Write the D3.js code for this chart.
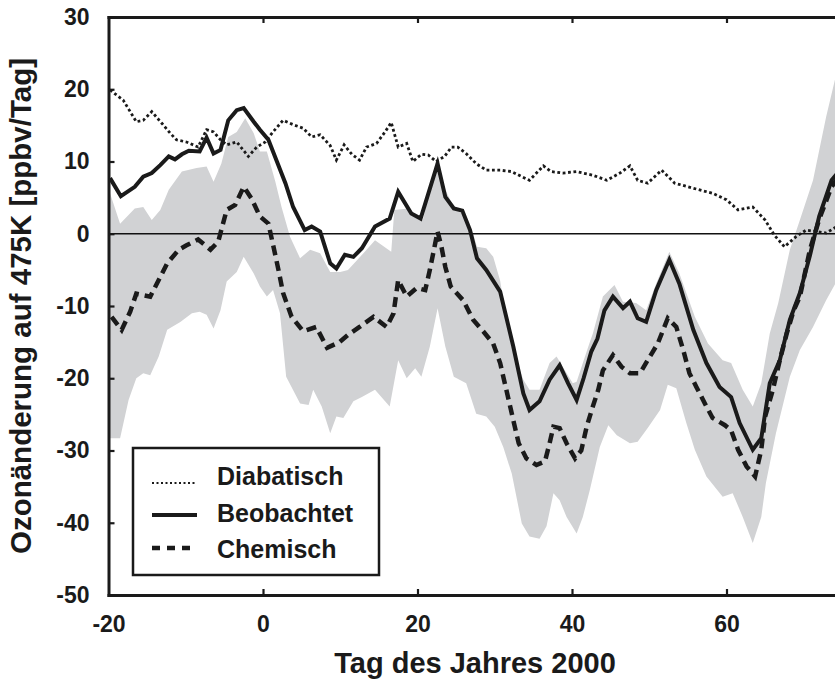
<!DOCTYPE html>
<html>
<head>
<meta charset="utf-8">
<script src="https://cdn.jsdelivr.net/npm/d3@7"></script>
<style>
  html, body { margin: 0; padding: 0; background: #fff; overflow: hidden; }
  svg { display: block; font-family: "Liberation Sans", Arial, Helvetica, sans-serif; font-weight: bold; }
</style>
</head>
<body>
<svg id="chart" width="835" height="680"></svg>
<script>
// Ozonänderung auf der 475K-Fläche, Tag des Jahres 2000: [Tag, ppbv/Tag]
const beobachtet = [
  [-19.8,7.7],[-18.4,5.2],[-16.6,6.5],[-15.5,7.9],[-14.4,8.4],[-13.3,9.5],[-12.2,10.7],[-11.4,10.3],
  [-10.5,11.0],[-9.6,11.5],[-8.2,11.4],[-7.3,13.3],[-6.4,11.1],[-5.5,11.6],[-4.5,15.7],[-3.4,17.1],
  [-2.5,17.4],[-1.2,15.5],[-0.4,14.4],[0.7,13.0],[1.8,10.0],[2.9,7.0],[3.9,3.7],[5.4,0.5],[6.3,1.0],
  [7.4,0.3],[8.7,-4.1],[9.5,-4.8],[10.6,-2.9],[11.7,-3.2],[12.8,-2.0],[14.5,1.0],[16.4,2.1],[17.5,5.8],
  [19.2,2.8],[20.4,2.1],[22.6,9.7],[23.6,5.1],[24.7,3.5],[25.8,3.2],[26.8,0.5],[27.7,-3.4],[28.9,-5.0],
  [30.7,-8.0],[32.4,-15.6],[33.7,-22.1],[34.5,-24.4],[35.8,-23.2],[37.1,-20.2],[38.4,-18.2],[39.5,-20.7],
  [40.6,-23.0],[41.5,-20.0],[42.5,-16.3],[43.3,-14.5],[44.2,-10.6],[45.3,-8.7],[46.6,-10.3],[47.5,-9.4],
  [48.5,-11.7],[49.6,-12.2],[50.9,-7.8],[52.6,-3.6],[53.9,-6.9],[55.7,-13.3],[57.4,-17.9],[59.1,-21.2],
  [60.6,-22.6],[61.7,-26.2],[63.4,-29.9],[64.5,-28.3],[65.6,-20.7],[66.9,-17.5],[68.2,-11.9],[69.5,-8.2],
  [70.8,-3.0],[72.0,2.4],[73.6,7.4],[74.3,8.3]
];

const chemisch = [
  [-19.6,-11.5],[-18.3,-13.3],[-17.2,-10.8],[-16.4,-8.3],[-14.6,-8.7],[-13.5,-6.4],[-12.4,-4.1],[-10.9,-2.2],
  [-9.9,-1.6],[-8.4,-0.8],[-6.8,-2.2],[-5.8,-1.1],[-4.7,3.3],[-3.6,4.0],[-2.5,6.5],[-1.5,4.9],[-0.4,2.4],
  [0.7,1.4],[1.4,-2.0],[2.0,-5.0],[2.6,-8.2],[3.7,-11.5],[5.2,-13.5],[6.9,-12.9],[8.3,-15.8],[9.9,-15.0],
  [11.0,-14.0],[12.5,-12.9],[14.3,-11.5],[16.0,-12.9],[16.9,-11.0],[17.5,-6.4],[18.6,-8.7],[19.9,-7.5],
  [21.0,-7.8],[21.6,-5.0],[22.6,0.3],[23.1,-1.8],[23.6,-4.6],[24.3,-7.3],[25.9,-9.2],[27.2,-11.9],
  [28.5,-13.5],[29.8,-15.2],[30.7,-17.9],[31.5,-21.6],[32.4,-25.8],[33.1,-29.0],[34.1,-31.1],[35.4,-32.0],
  [36.5,-31.5],[37.1,-29.0],[37.6,-26.7],[38.4,-26.9],[39.3,-29.0],[40.4,-31.1],[41.2,-30.0],[41.9,-26.7],
  [42.7,-23.9],[43.4,-21.6],[44.0,-18.9],[45.3,-16.8],[46.4,-18.4],[47.5,-19.3],[48.8,-19.3],[49.8,-17.5],
  [51.1,-15.2],[52.4,-11.7],[53.5,-12.9],[54.4,-16.1],[55.2,-19.3],[56.1,-21.2],[57.2,-23.5],[58.2,-25.5],
  [59.8,-26.5],[60.6,-27.2],[61.5,-29.9],[62.6,-32.2],[63.7,-33.6],[64.5,-29.9],[65.0,-25.3],[66.0,-21.6],
  [66.9,-17.5],[67.8,-13.8],[68.7,-10.6],[69.5,-8.7],[70.8,-2.2],[72.0,2.0],[73.6,6.5],[74.3,7.5]
];

const diabatisch = [
  [-19.8,19.9],[-18.1,18.5],[-16.4,15.5],[-15.5,15.7],[-14.4,16.9],[-13.1,15.3],[-12.0,13.9],[-11.2,13.0],
  [-9.9,12.7],[-8.4,12.0],[-7.3,14.4],[-6.4,14.1],[-5.5,13.0],[-4.7,12.3],[-3.4,12.7],[-1.9,10.7],
  [-0.8,12.0],[0.3,12.7],[1.3,14.1],[2.6,15.7],[3.9,15.1],[5.2,14.6],[6.3,13.4],[7.4,13.7],[8.7,12.2],
  [9.5,10.2],[10.5,12.3],[11.5,11.0],[12.5,10.2],[13.4,12.0],[14.7,12.5],[15.8,14.1],[16.6,15.4],
  [17.5,12.0],[18.6,12.5],[19.4,10.0],[20.5,11.0],[21.4,10.9],[22.4,10.0],[23.5,10.7],[24.4,12.0],
  [25.2,12.0],[26.3,11.1],[27.6,9.7],[28.9,8.8],[30.7,8.8],[32.2,8.6],[33.5,7.9],[34.5,7.4],[36.3,9.4],
  [37.3,8.6],[38.8,8.4],[40.6,8.6],[42.7,8.1],[44.5,7.4],[46.2,8.4],[47.5,9.4],[48.5,7.4],[49.8,7.0],
  [51.6,8.8],[53.3,7.0],[55.7,6.3],[58.2,5.6],[60.0,4.7],[61.5,3.3],[63.4,3.7],[65.0,1.9],[66.2,-0.2],
  [67.5,-1.8],[69.0,-0.4],[70.3,0.5],[71.6,0.3],[72.9,0.1],[74.3,1.0]
];

// Unsicherheitsbereich der chemischen Ozonänderung (obere / untere Grenze)
const bandOben = [
  [-19.8,5.6],[-18.5,1.4],[-16.6,3.5],[-15.5,3.7],[-14.4,1.9],[-13.3,3.3],[-12.2,6.1],[-10.5,8.6],
  [-8.6,9.1],[-7.3,9.3],[-6.4,7.2],[-5.4,9.7],[-4.5,13.4],[-3.4,14.1],[-2.3,16.0],[-1.2,13.9],[-0.4,11.4],
  [0.5,11.4],[1.6,7.2],[2.4,3.7],[3.5,-0.4],[4.8,-3.4],[6.1,-2.2],[7.4,-2.7],[8.7,-5.3],[10.0,-5.3],
  [11.0,-5.0],[13.0,-2.7],[14.5,-0.9],[16.6,-2.5],[17.0,3.3],[18.8,3.5],[19.9,2.4],[20.7,1.9],[22.4,10.2],
  [23.6,6.1],[24.7,3.7],[25.8,2.8],[27.2,0.0],[27.7,-1.8],[28.9,-2.0],[29.8,-3.2],[30.7,-6.5],[31.1,-9.2],
  [31.9,-14.2],[32.8,-17.5],[33.7,-20.2],[34.5,-21.6],[35.8,-21.6],[37.1,-17.9],[38.0,-17.0],[38.8,-18.4],
  [40.1,-20.7],[40.6,-20.5],[41.4,-17.9],[42.3,-15.0],[42.7,-13.8],[44.0,-8.7],[45.5,-7.1],[46.6,-9.4],
  [48.3,-9.6],[49.6,-10.6],[50.9,-6.9],[52.6,-2.5],[53.9,-5.5],[55.9,-11.5],[57.6,-15.2],[59.5,-17.5],
  [60.6,-17.9],[62.1,-21.6],[63.4,-23.9],[64.5,-20.7],[65.6,-13.8],[66.7,-9.6],[68.2,-2.2],[69.5,1.9],
  [71.2,7.4],[72.9,16.2],[74.3,22.5]
];

const bandUnten = [
  [-19.8,-28.3],[-18.5,-28.3],[-17.4,-23.0],[-16.4,-20.0],[-15.5,-19.3],[-14.6,-19.6],[-13.5,-17.0],
  [-12.4,-13.3],[-10.7,-12.2],[-9.2,-11.0],[-8.2,-10.8],[-7.3,-11.2],[-6.4,-13.1],[-5.5,-10.6],[-4.7,-6.6],
  [-3.4,-5.3],[-2.5,-3.2],[-1.2,-5.5],[-0.4,-7.3],[0.5,-8.7],[1.3,-7.8],[2.2,-11.0],[3.0,-19.8],[4.8,-23.5],
  [5.9,-23.7],[6.5,-21.6],[7.6,-23.9],[8.7,-27.6],[9.5,-25.3],[10.4,-25.5],[11.7,-23.2],[12.8,-22.6],
  [14.5,-21.6],[16.4,-23.9],[17.5,-17.5],[18.6,-20.0],[19.7,-18.6],[20.5,-19.8],[21.6,-15.6],[22.6,-10.3],
  [23.6,-15.6],[24.7,-19.8],[26.3,-20.7],[27.6,-24.9],[28.9,-25.3],[30.0,-26.7],[31.1,-29.5],[32.2,-33.2],
  [33.5,-40.1],[34.5,-41.9],[35.8,-42.2],[36.7,-40.5],[37.6,-35.9],[38.4,-36.9],[39.3,-39.2],[40.6,-41.5],
  [41.4,-39.2],[42.3,-35.5],[43.6,-29.5],[44.7,-26.5],[45.8,-27.9],[47.5,-29.0],[48.5,-28.8],[49.8,-26.9],
  [51.4,-24.4],[52.4,-20.9],[53.5,-21.4],[54.8,-26.2],[55.9,-29.9],[57.4,-33.6],[59.5,-36.4],[60.8,-35.9],
  [62.1,-39.2],[63.4,-42.8],[64.5,-39.2],[65.1,-34.5],[66.4,-27.6],[68.2,-19.8],[69.5,-16.1],[71.2,-12.9],
  [72.9,-9.2],[74.3,-6.5]
];

const xTicks = [-20, 0, 20, 40, 60];
const yTicks = [-50, -40, -30, -20, -10, 0, 10, 20, 30];

const legendEintraege = [
  { name: "Diabatisch", key: "dia" },
  { name: "Beobachtet", key: "obs" },
  { name: "Chemisch", key: "chem" }
];

// ---- Aufbau ----
const svg = d3.select("#chart");
const plotLeft = 108.5, plotTop = 17, plotBottom = 595;
const pxPerDay = 7.725;
const xMax = 76;
const plotRight = plotLeft + (xMax + 20) * pxPerDay;

const x = d3.scaleLinear().domain([-20, xMax]).range([plotLeft, plotRight]);
const y = d3.scaleLinear().domain([-50, 30]).range([plotBottom, plotTop]);

svg.append("defs").append("clipPath").attr("id", "plotclip")
  .append("rect").attr("x", plotLeft).attr("y", plotTop)
  .attr("width", plotRight - plotLeft).attr("height", plotBottom - plotTop);

const plot = svg.append("g").attr("clip-path", "url(#plotclip)");

// grauer Bereich
const bandPoly = bandOben.concat(bandUnten.slice().reverse());
plot.append("path")
  .attr("d", d3.line().x(d => x(d[0])).y(d => y(d[1]))(bandPoly) + "Z")
  .attr("fill", "#d1d2d4")
  .attr("stroke", "none");

// Nulllinie
plot.append("line")
  .attr("x1", x(-20)).attr("x2", plotRight)
  .attr("y1", y(0)).attr("y2", y(0))
  .attr("stroke", "#111").attr("stroke-width", 1.3);

const line = d3.line().x(d => x(d[0])).y(d => y(d[1]));

const styles = {
  dia:  { width: 2.8, dash: "2.8,2.6" },
  obs:  { width: 4,   dash: null },
  chem: { width: 4.5, dash: "10,6" }
};

function drawSeries(data, st) {
  const p = plot.append("path")
    .attr("d", line(data))
    .attr("fill", "none")
    .attr("stroke", "#1a1a1a")
    .attr("stroke-width", st.width)
    .attr("stroke-linejoin", "miter")
    .attr("stroke-linecap", "butt");
  if (st.dash) p.attr("stroke-dasharray", st.dash);
}

drawSeries(diabatisch, styles.dia);
drawSeries(chemisch, styles.chem);
drawSeries(beobachtet, styles.obs);

// ---- Achsen ----
const axisColor = "#1a1a1a";
const fmt = d => String(d);   // einfacher Bindestrich als Minuszeichen

const gBottom = svg.append("g").attr("transform", `translate(0,${plotBottom})`)
  .call(d3.axisBottom(x).tickValues(xTicks).tickSizeInner(-6).tickSizeOuter(0).tickPadding(21).tickFormat(fmt));
const gTop = svg.append("g").attr("transform", `translate(0,${plotTop})`)
  .call(d3.axisTop(x).tickValues(xTicks.filter(d => d > -20)).tickSizeInner(-6).tickSizeOuter(0).tickFormat(""));
const gLeft = svg.append("g").attr("transform", `translate(${plotLeft},0)`)
  .call(d3.axisLeft(y).tickValues(yTicks).tickSizeInner(-6).tickSizeOuter(0).tickPadding(19).tickFormat(fmt));

[gBottom, gTop, gLeft].forEach(g => {
  g.select(".domain").attr("stroke", axisColor).attr("stroke-width", 3).attr("stroke-linecap", "square");
  g.selectAll(".tick line").attr("stroke", axisColor).attr("stroke-width", 2.2);
  g.selectAll(".tick text").attr("fill", axisColor).style("font-size", "23px").style("font-weight", "bold")
    .style("font-family", '"Liberation Sans", Arial, sans-serif');
});
gBottom.selectAll(".tick").filter(d => d === -20).select("line").remove();

// Achsentitel
svg.append("text")
  .attr("x", 475).attr("y", 673)
  .attr("text-anchor", "middle")
  .attr("fill", axisColor)
  .style("font-size", "29px")
  .text("Tag des Jahres 2000");

svg.append("text")
  .attr("transform", `translate(31,${(plotTop + plotBottom) / 2}) rotate(-90)`)
  .attr("text-anchor", "middle")
  .attr("fill", axisColor)
  .style("font-size", "29.5px")
  .text("Ozonänderung auf 475K [ppbv/Tag]");

// ---- Legende ----
const lg = svg.append("g");
lg.append("rect")
  .attr("x", 133).attr("y", 448).attr("width", 246).attr("height", 127)
  .attr("fill", "#fff").attr("stroke", axisColor).attr("stroke-width", 2.5);

const legendStyles = {
  dia:  { width: 2, dash: "2,2.5" },
  obs:  { width: 4, dash: null },
  chem: { width: 4.5, dash: "8,7" }
};
const rowY = [483, 515, 548];
const textY = [485, 522, 558];

legendEintraege.forEach((e, i) => {
  const st = legendStyles[e.key];
  const l = lg.append("line")
    .attr("x1", 152).attr("x2", 197)
    .attr("y1", rowY[i]).attr("y2", rowY[i])
    .attr("stroke", "#1a1a1a").attr("stroke-width", st.width);
  if (st.dash) l.attr("stroke-dasharray", st.dash);
  lg.append("text")
    .attr("x", 217).attr("y", textY[i])
    .attr("fill", axisColor)
    .style("font-size", "25px")
    .text(e.name);
});
</script>
</body>
</html>
